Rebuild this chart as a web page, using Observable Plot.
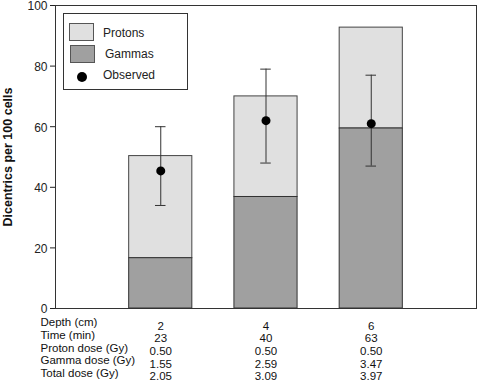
<!DOCTYPE html>
<html><head><meta charset="utf-8">
<script src="https://cdn.jsdelivr.net/npm/d3@7"></script>
<script src="https://cdn.jsdelivr.net/npm/@observablehq/plot@0.6"></script>
<style>
body{margin:0;background:#fff;font-family:"Liberation Sans",Arial,sans-serif;}
#wrap{position:relative;width:478px;height:384px;}
#legend{position:absolute;left:63px;top:13px;width:123px;height:75px;border:1px solid #333;background:#fff;font-size:12px;line-height:14px;color:#222;}
.sw{position:absolute;width:23px;height:16px;border:1px solid #555;}
.lt{position:absolute;left:39px;}
</style></head>
<body><div id="wrap"></div>
<script>
const depth = [2, 4, 6];
const timeMin = [23, 40, 63];
const protonDose = ["0.50", "0.50", "0.50"];
const gammaDose = ["1.55", "2.59", "3.47"];
const totalDose = ["2.05", "3.09", "3.97"];
const gammaDic = [16.6, 36.8, 59.4];
const totalDic = [50.3, 70.0, 92.7];
const observed = [45.4, 62.0, 61.0];
const errLo = [34, 48, 47];
const errHi = [60, 79, 77];
const rowLabels = ["Depth (cm)", "Time (min)", "Proton dose (Gy)", "Gamma dose (Gy)", "Total dose (Gy)"];
const rowValues = [depth.map(String), timeMin.map(String), protonDose, gammaDose, totalDose];
const yTicks = [0, 20, 40, 60, 80, 100];

const data = depth.map((d, i) => ({depth: d, gamma: gammaDic[i], total: totalDic[i], obs: observed[i], lo: errLo[i], hi: errHi[i]}));
const halfW = 0.6, capW = 0.1;
const rowDy = [17.5, 30, 43, 55.5, 68];

const marks = [
  Plot.rect(data, {x1: d => d.depth - halfW, x2: d => d.depth + halfW, y1: d => d.gamma, y2: d => d.total, fill: "#e0e0e0", stroke: "#444", strokeWidth: 1}),
  Plot.rect(data, {x1: d => d.depth - halfW, x2: d => d.depth + halfW, y1: 0, y2: d => d.gamma, fill: "#a0a0a0", stroke: "#333", strokeWidth: 1}),
  Plot.ruleX(data, {x: "depth", y1: "lo", y2: "hi", stroke: "#333", strokeWidth: 1}),
  Plot.ruleY(data, {x1: d => d.depth - capW, x2: d => d.depth + capW, y: "hi", stroke: "#333"}),
  Plot.ruleY(data, {x1: d => d.depth - capW, x2: d => d.depth + capW, y: "lo", stroke: "#333"}),
  Plot.dot(data, {x: "depth", y: "obs", r: 4.5, fill: "#000", stroke: "none"}),
  Plot.frame({stroke: "#333"}),
  Plot.axisY(yTicks, {tickSize: 5, tickFormat: () => "", label: null, stroke: "#222"}),
  Plot.text(yTicks, {y: d => d, frameAnchor: "left", textAnchor: "end", dx: -8, dy: 1, fontSize: 12, fill: "#222"}),
  Plot.text(["Dicentrics per 100 cells"], {frameAnchor: "left", textAnchor: "middle", dx: -48, rotate: -90, fontSize: 12.5, fontWeight: "bold", fill: "#111"})
];
rowLabels.forEach((lab, r) => {
  marks.push(Plot.text([lab], {frameAnchor: "bottom-left", dx: -15, dy: rowDy[r], textAnchor: "start", fontSize: 11.5, fill: "#111"}));
  marks.push(Plot.text(depth.map((d, i) => ({x: d, t: rowValues[r][i]})), {x: "x", y: 0, text: "t", dy: rowDy[r], fontSize: 11.5, fill: "#111", clip: false}));
});

const chart = Plot.plot({
  width: 478, height: 384,
  marginLeft: 55, marginRight: 2, marginTop: 5, marginBottom: 76,
  x: {domain: [0, 8], axis: null},
  y: {domain: [0, 100], axis: null},
  style: {fontFamily: "'Liberation Sans', Arial, sans-serif", overflow: "visible", background: "#fff"},
  marks
});
const wrap = document.getElementById("wrap");
wrap.appendChild(chart);
const lg = document.createElement("div");
lg.id = "legend";
lg.innerHTML = `
<div class="sw" style="left:5px;top:9px;background:#e0e0e0"></div><div class="lt" style="top:12px">Protons</div>
<div class="sw" style="left:6px;top:31px;background:#a0a0a0"></div><div class="lt" style="top:33px;left:41px">Gammas</div>
<div style="position:absolute;left:13px;top:58px;width:10px;height:10px;border-radius:50%;background:#000"></div><div class="lt" style="top:54px">Observed</div>`;
wrap.appendChild(lg);
</script></body></html>
